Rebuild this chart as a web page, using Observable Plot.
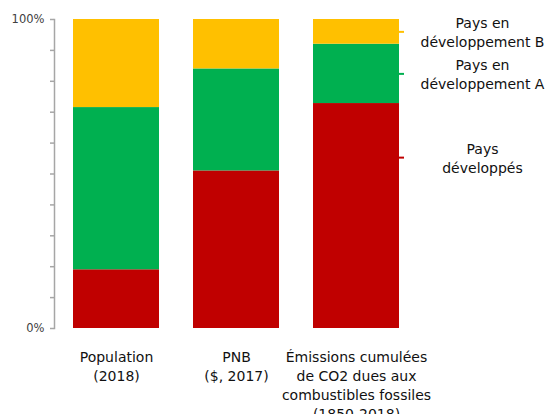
<!DOCTYPE html>
<html>
<head>
<meta charset="utf-8">
<script src="https://cdn.jsdelivr.net/npm/d3@7"></script>
<script src="https://cdn.jsdelivr.net/npm/@observablehq/plot@0.6"></script>
<style>
  html, body { margin: 0; padding: 0; background: #fff; }
</style>
</head>
<body>
<div id="chart"></div>
<script>
// Categories (x axis labels)
const categories = [
  "Population\n(2018)",
  "PNB\n($, 2017)",
  "Émissions cumulées\nde CO2 dues aux\ncombustibles fossiles\n(1850-2018)"
];
// Series (stack order: bottom to top)
const groups = ["Pays développés", "Pays en développement A", "Pays en développement B"];
const groupLabels = ["Pays\ndéveloppés", "Pays en\ndéveloppement A", "Pays en\ndéveloppement B"];
const colors = ["#C00000", "#00B050", "#FFC000"];
// Values (% share)
const developpes = [19, 51, 72.8];
const developpementA = [52.5, 33, 19.2];
const developpementB = [28.5, 16, 8];
// Legend anchor levels (% on the y scale, next to the last bar)
const legendLevels = [55.3, 82.4, 96];
// Y ticks
const yTicks = [0, 10, 20, 30, 40, 50, 60, 70, 80, 90, 100];
const yTickLabels = {0: "0%", 100: "100%"};

const series = [developpes, developpementA, developpementB];
const rows = [];
categories.forEach((c, i) => {
  groups.forEach((g, j) => rows.push({cat: c, group: g, value: series[j][i]}));
});
const legendRows = groups.map((g, j) => ({group: g, label: groupLabels[j], level: legendLevels[j]}));

const chart = Plot.plot({
  width: 558,
  height: 414,
  marginLeft: 54,
  marginTop: 19,
  marginBottom: 86,
  marginRight: 142,
  style: {fontFamily: "DejaVu Sans", background: "#fff"},
  x: {domain: categories, range: [56, 416], paddingInner: 0.283, paddingOuter: 0.14, axis: null},
  y: {domain: [0, 100], axis: null},
  color: {domain: groups, range: colors},
  marks: [
    Plot.barY(rows, {x: "cat", y: "value", fill: "group"}),
    Plot.frame({anchor: "left", stroke: "#a6a6a6", strokeWidth: 1.5, strokeOpacity: 1}),
    Plot.axisY({
      ticks: yTicks,
      tickSize: 4,
      tickPadding: 6,
      tickFormat: d => yTickLabels[d] ?? "",
      stroke: "#a6a6a6",
      strokeWidth: 1.5,
      strokeOpacity: 1,
      fill: "#404040",
      fontSize: 11.5,
      label: null
    }),
    Plot.axisX({
      tickSize: 0,
      tickPadding: 20,
      fontSize: 14,
      lineHeight: 1.36,
      fill: "#111",
      label: null
    }),
    Plot.tickY(legendRows, {
      x: () => categories[2],
      y: "level",
      stroke: "group",
      strokeWidth: 2,
      insetLeft: 80,
      dx: 5
    }),
    Plot.text(legendRows, {
      x: () => categories[2],
      y: "level",
      text: "label",
      dx: 126,
      fontSize: 14,
      lineHeight: 1.36,
      fill: "#111",
      textAnchor: "middle"
    })
  ]
});
document.getElementById("chart").appendChild(chart);
</script>
</body>
</html>
